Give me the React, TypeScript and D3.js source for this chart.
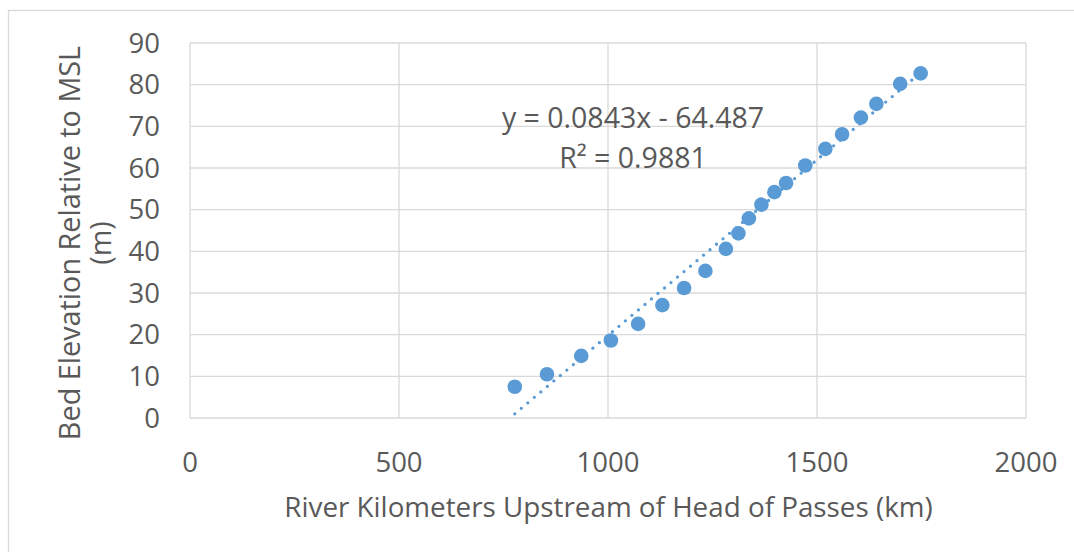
import React from "react";
import * as d3 from "d3";

const riverKm = [777, 854, 936, 1007, 1072, 1130, 1182, 1233, 1282, 1312, 1337, 1367, 1398, 1426, 1472, 1520, 1560, 1605, 1642, 1699, 1748];
const bedElevation = [7.5, 10.5, 14.9, 18.6, 22.6, 27.1, 31.2, 35.3, 40.6, 44.3, 47.9, 51.2, 54.2, 56.4, 60.6, 64.6, 68.1, 72.1, 75.4, 80.2, 82.7];
const xTicks = [0, 500, 1000, 1500, 2000];
const yTicks = [0, 10, 20, 30, 40, 50, 60, 70, 80, 90];
const slope = 0.0843;
const intercept = -64.487;
const equationText = "y = 0.0843x - 64.487";
const r2Text = "R² = 0.9881";
const xTitle = "River Kilometers Upstream of Head of Passes (km)";
const yTitleLines = ["Bed Elevation Relative to MSL", "(m)"];

const W = 1074;
const H = 552;
const FONT = "'Open Sans', 'Noto Sans', sans-serif";
const TEXT = "#595959";
const GRID = "#D9D9D9";
const BLUE = "#5B9BD5";

export default function App() {
  const x = d3.scaleLinear().domain([0, 2000]).range([190, 1026]);
  const y = d3.scaleLinear().domain([0, 90]).range([418, 43]);
  const xMin = d3.min(riverKm) as number;
  const xMax = d3.max(riverKm) as number;
  const trend = d3.line<number>().x((d) => x(d)).y((d) => y(slope * d + intercept));
  const fs = 27.5;
  const fsTitle = 27.8;
  const fsEq = 28.5;

  return (
    <svg width={W} height={H} style={{ position: "absolute", left: 0, top: 0, background: "#fff" }}>
      <rect x={8.5} y={10.5} width={W + 10} height={H + 10} fill="#fff" stroke={GRID} strokeWidth={1.3} />
      {yTicks.map((t) => (
        <line key={"gy" + t} x1={x(0)} x2={x(2000)} y1={y(t)} y2={y(t)} stroke={GRID} strokeWidth={1.3} />
      ))}
      {xTicks.map((t) => (
        <line key={"gx" + t} x1={x(t)} x2={x(t)} y1={y(0)} y2={y(90)} stroke={GRID} strokeWidth={1.3} />
      ))}
      {yTicks.map((t) => (
        <text key={"ty" + t} x={160} y={y(t)} dy="0.35em" textAnchor="end" fontFamily={FONT} fontSize={fs} fill={TEXT}>
          {t}
        </text>
      ))}
      {xTicks.map((t) => (
        <text key={"tx" + t} x={x(t)} y={472} textAnchor="middle" fontFamily={FONT} fontSize={fs} fill={TEXT}>
          {t}
        </text>
      ))}
      <text x={608.5} y={517} textAnchor="middle" fontFamily={FONT} fontSize={fsTitle} fill={TEXT}>
        {xTitle}
      </text>
      <g transform="translate(0,243) rotate(-90)">
        {yTitleLines.map((l, i) => (
          <text key={l} x={0} y={80 + i * 31} textAnchor="middle" fontFamily={FONT} fontSize={28.8} fill={TEXT}>
            {l}
          </text>
        ))}
      </g>
      <path
        d={trend([xMin, xMax]) as string}
        fill="none"
        stroke={BLUE}
        strokeWidth={3.3}
        strokeDasharray="0 8.5"
        strokeLinecap="round"
      />
      {riverKm.map((d, i) => (
        <circle key={i} cx={x(d)} cy={y(bedElevation[i])} r={7.3} fill={BLUE} />
      ))}
      <text x={633} y={128} textAnchor="middle" fontFamily={FONT} fontSize={fsEq} fill={TEXT}>
        {equationText}
      </text>
      <text x={633} y={168} textAnchor="middle" fontFamily={FONT} fontSize={fsEq} fill={TEXT}>
        {r2Text}
      </text>
    </svg>
  );
}
